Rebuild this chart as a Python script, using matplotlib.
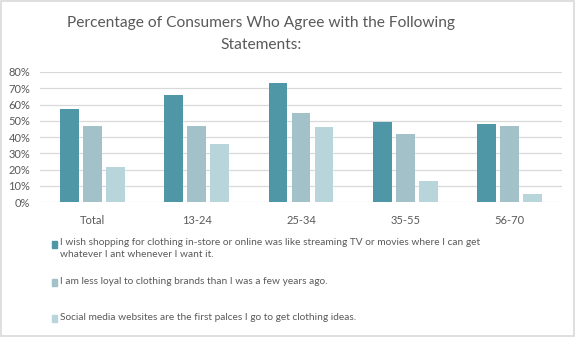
import numpy as np
import matplotlib
matplotlib.use("Agg")
import matplotlib.pyplot as plt
from matplotlib.patches import Rectangle

# data
groups = ["Total", "13-24", "25-34", "35-55", "56-70"]
stream_like = [57, 66, 73, 49, 48]
less_loyal = [47, 47, 55, 42, 47]
social_media = [21.5, 36, 46, 13, 5]
series_labels = [
    "I wish shopping for clothing in-store or online was like streaming TV or movies where I can get\nwhatever I ant whenever I want it.",
    "I am less loyal to clothing brands than I was a few years ago.",
    "Social media websites are the first palces I go to get clothing ideas.",
]
colors = ["#4f96a7", "#a3c1c9", "#b9d5dc"]
txt = "#595959"

plt.rcParams["font.family"] = ["Lato", "DejaVu Sans"]

fig = plt.figure(figsize=(5.76, 3.37), dpi=100)
ax = fig.add_axes([40 / 576, 1 - 202 / 337, 522 / 576, 130 / 337])

x = np.arange(len(groups))
w = 0.18
off = 0.22
for i, vals in enumerate([stream_like, less_loyal, social_media]):
    ax.bar(x + (i - 1) * off, np.array(vals) / 100, width=w, color=colors[i], zorder=3)

ax.set_xlim(-0.5, len(groups) - 0.5)
ax.set_ylim(0, 0.8)
ax.set_yticks(np.arange(0, 0.81, 0.1))
ax.set_yticklabels([f"{int(round(v * 100))}%" for v in np.arange(0, 0.81, 0.1)])
ax.set_xticks(x)
ax.set_xticklabels(groups)
ax.grid(axis="y", color="#d9d9d9", linewidth=0.9, zorder=0)
for s in ax.spines.values():
    s.set_visible(False)
ax.tick_params(axis="both", length=0, labelsize=8, labelcolor=txt)
ax.tick_params(axis="y", pad=7)
ax.tick_params(axis="x", pad=9)

fig.text(261 / 576, 1 - 34 / 337, "Percentage of Consumers Who Agree with the Following\nStatements:",
         ha="center", va="center", fontsize=11.2, color=txt, linespacing=1.8)

# legend, stacked at the bottom
leg_y = [244, 282, 318]
for i, lab in enumerate(series_labels):
    fig.patches.append(Rectangle((52 / 576, 1 - (leg_y[i] + 4) / 337), 5 / 576, 7 / 337,
                                 transform=fig.transFigure, color=colors[i]))
    fig.text(60 / 576, 1 - (leg_y[i] - 6) / 337 if "\n" in lab else 1 - leg_y[i] / 337, lab,
             ha="left", va="top" if "\n" in lab else "center",
             fontsize=7.3, color=txt, linespacing=1.4)

fig.patches.append(Rectangle((0.002, 0.003), 0.995, 0.994, transform=fig.transFigure,
                             fill=False, edgecolor="#d9d9d9", linewidth=1.2))

fig.savefig("out.png", dpi=100)
